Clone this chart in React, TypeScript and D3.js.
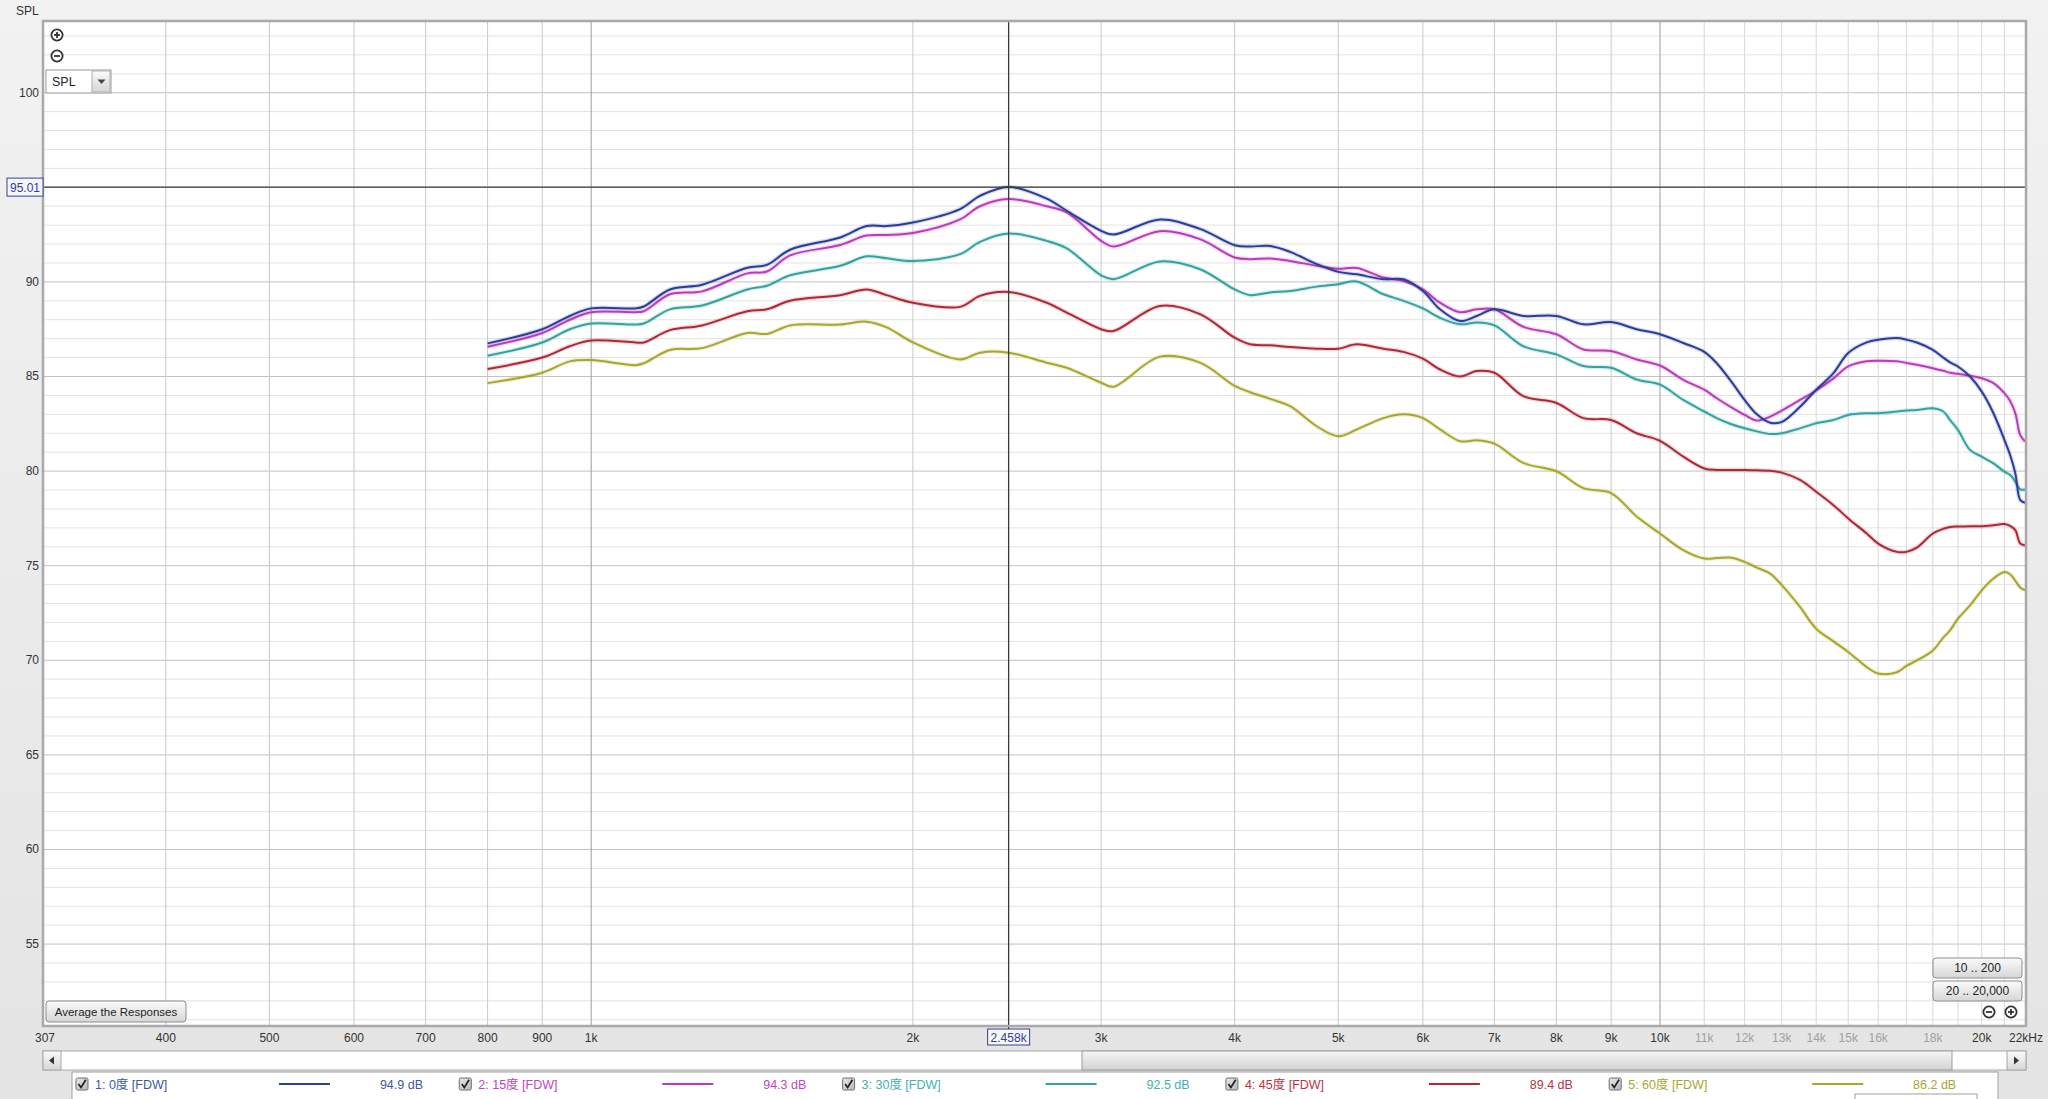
import React, { useEffect } from 'react';
import * as d3 from 'd3';

const W = 2048;
const H = 1099;

// Frequencies (Hz) shared by all five responses
const freqs = [800, 900, 955, 1000, 1100, 1120, 1185, 1270, 1400, 1460, 1535, 1710, 1810, 1890, 2000, 2214, 2311, 2458, 2668, 2786, 3000, 3080, 3405, 3712, 4000, 4135, 4317, 4507, 4773, 5000, 5203, 5511, 5754, 6000, 6226, 6502, 6739, 7000, 7450, 8000, 8479, 9000, 9510, 10000, 10515, 11000, 11300, 11630, 12000, 12320, 12680, 13000, 13520, 14000, 14530, 15000, 15610, 16000, 16660, 17000, 17390, 18000, 18410, 18680, 19000, 19500, 20000, 20510, 21000, 21260, 21500, 21730, 21960];

const spl0 = [86.75, 87.5, 88.2, 88.6, 88.6, 88.7, 89.6, 89.85, 90.75, 90.9, 91.7, 92.35, 92.95, 92.95, 93.14, 93.85, 94.55, 95.02, 94.4, 93.76, 92.7, 92.5, 93.3, 92.8, 91.94, 91.87, 91.9, 91.59, 90.94, 90.53, 90.4, 90.14, 90.14, 89.52, 88.55, 87.93, 88.2, 88.55, 88.2, 88.2, 87.76, 87.88, 87.5, 87.23, 86.77, 86.3, 85.7, 84.82, 83.76, 83.0, 82.56, 82.6, 83.4, 84.3, 85.18, 86.24, 86.8, 86.94, 87.03, 86.95, 86.8, 86.41, 86.0, 85.75, 85.53, 85.0, 84.2, 83.06, 81.65, 80.85, 79.88, 78.47, 78.33];
const spl15 = [86.57, 87.3, 88.0, 88.4, 88.4, 88.45, 89.35, 89.5, 90.45, 90.55, 91.4, 91.95, 92.45, 92.48, 92.58, 93.3, 94.0, 94.38, 94.0, 93.67, 92.17, 91.87, 92.68, 92.26, 91.29, 91.2, 91.24, 91.11, 90.85, 90.7, 90.74, 90.23, 90.05, 89.6, 88.9, 88.4, 88.55, 88.55, 87.63, 87.23, 86.43, 86.35, 85.9, 85.58, 84.82, 84.3, 83.85, 83.41, 82.97, 82.67, 82.88, 83.2, 83.76, 84.26, 84.9, 85.53, 85.8, 85.83, 85.8, 85.72, 85.62, 85.44, 85.3, 85.2, 85.14, 85.04, 84.91, 84.65, 84.12, 83.7, 83.06, 81.9, 81.56];
const spl30 = [86.1, 86.8, 87.5, 87.8, 87.75, 87.8, 88.55, 88.75, 89.6, 89.8, 90.35, 90.85, 91.35, 91.25, 91.1, 91.47, 92.12, 92.56, 92.17, 91.77, 90.35, 90.14, 91.08, 90.67, 89.6, 89.3, 89.44, 89.52, 89.75, 89.88, 90.02, 89.35, 89.0, 88.6, 88.1, 87.76, 87.85, 87.7, 86.6, 86.17, 85.55, 85.46, 84.84, 84.57, 83.76, 83.15, 82.8, 82.5, 82.26, 82.1, 81.96, 82.0, 82.26, 82.53, 82.7, 82.97, 83.06, 83.06, 83.15, 83.2, 83.23, 83.32, 83.15, 82.7, 82.18, 81.12, 80.76, 80.41, 79.97, 79.8, 79.44, 79.03, 79.03];
const spl45 = [85.4, 86.0, 86.6, 86.9, 86.8, 86.8, 87.45, 87.7, 88.45, 88.55, 89.0, 89.3, 89.6, 89.3, 88.9, 88.68, 89.26, 89.47, 88.9, 88.38, 87.5, 87.4, 88.73, 88.3, 87.05, 86.7, 86.65, 86.56, 86.47, 86.47, 86.7, 86.47, 86.3, 85.94, 85.37, 85.0, 85.29, 85.2, 83.96, 83.6, 82.8, 82.7, 82.0, 81.6, 80.76, 80.14, 80.06, 80.06, 80.06, 80.04, 80.02, 79.92, 79.53, 78.91, 78.2, 77.5, 76.7, 76.17, 75.73, 75.73, 75.96, 76.7, 76.95, 77.05, 77.07, 77.09, 77.09, 77.14, 77.2, 77.1, 76.88, 76.17, 76.08];
const spl60 = [84.65, 85.2, 85.8, 85.87, 85.6, 85.7, 86.4, 86.5, 87.3, 87.25, 87.7, 87.75, 87.9, 87.6, 86.8, 85.9, 86.26, 86.26, 85.73, 85.46, 84.67, 84.46, 86.05, 85.73, 84.5, 84.17, 83.82, 83.43, 82.37, 81.84, 82.2, 82.8, 83.0, 82.8, 82.2, 81.58, 81.63, 81.45, 80.43, 79.99, 79.1, 78.84, 77.6, 76.7, 75.82, 75.38, 75.4, 75.43, 75.2, 74.9, 74.58, 73.97, 72.82, 71.67, 71.0, 70.44, 69.64, 69.3, 69.37, 69.7, 69.99, 70.52, 71.2, 71.58, 72.2, 72.9, 73.7, 74.32, 74.67, 74.55, 74.2, 73.85, 73.7];

const seriesNames = ['1: 0度 [FDW]', '2: 15度 [FDW]', '3: 30度 [FDW]', '4: 45度 [FDW]', '5: 60度 [FDW]'];
const seriesLevels = ['94.9 dB', '94.3 dB', '92.5 dB', '89.4 dB', '86.2 dB'];
const seriesValues = [spl0, spl15, spl30, spl45, spl60];
const seriesColors = ['#2a3d9c', '#bd3abd', '#32a3a0', '#b02836', '#a9a62a'];
const seriesTextColors = ['#3b58a8', '#c244c2', '#3fb2b0', '#c03040', '#aaa632'];

const yTickLabels = [100, 90, 85, 80, 75, 70, 65, 60, 55];
const xTickLabels = [400, 500, 600, 700, 800, 900, 1000, 2000, 3000, 4000, 5000, 6000, 7000, 8000, 9000, 10000, 11000, 12000, 13000, 14000, 15000, 16000, 18000, 20000];
const xFadedLabels = [11000, 12000, 13000, 14000, 15000, 16000, 18000];
const xGridLines = [400, 500, 600, 700, 800, 900, 1000, 2000, 3000, 4000, 5000, 6000, 7000, 8000, 9000, 10000, 11000, 12000, 13000, 14000, 15000, 16000, 17000, 18000, 19000, 20000, 21000];

const cursorFreq = 2458;
const cursorFreqLabel = '2.458k';
const cursorSpl = 95.01;
const cursorSplLabel = '95.01';

const FONT = "'Liberation Sans', Arial, 'Noto Sans CJK SC', sans-serif";

const PL = 43, PR = 2026, PT = 21, PB = 1026;

function fmtFreq(v: number) {
  return v < 1000 ? String(v) : `${v / 1000}k`;
}

function ZoomIcon({ cx, cy, plus }: { cx: number; cy: number; plus: boolean }) {
  return (
    <g>
      <circle cx={cx} cy={cy} r={5.6} fill="#fff" stroke="#333" strokeWidth={1.8} />
      <line x1={cx - 3} x2={cx + 3} y1={cy} y2={cy} stroke="#333" strokeWidth={1.8} />
      {plus && <line x1={cx} x2={cx} y1={cy - 3} y2={cy + 3} stroke="#333" strokeWidth={1.8} />}
    </g>
  );
}

function Button({ x, y, w, h, label, size = 12 }: { x: number; y: number; w: number; h: number; label: string; size?: number }) {
  return (
    <g>
      <rect x={x} y={y} width={w} height={h} rx={3} fill="url(#btnGrad)" stroke="#8c8c8c" strokeWidth={1} />
      <text x={x + w / 2} y={y + h / 2 + 4} textAnchor="middle" fontSize={size} fill="#222" fontFamily={FONT}>{label}</text>
    </g>
  );
}

function CheckBox({ x, y }: { x: number; y: number }) {
  return (
    <g>
      <rect x={x} y={y} width={12} height={12} rx={1.5} fill="url(#chkGrad)" stroke="#6e6e6e" strokeWidth={1} />
      <path d={`M${x + 2.5},${y + 6} L${x + 5},${y + 9.5} L${x + 9.8},${y + 1.8}`} fill="none" stroke="#222" strokeWidth={1.7} />
    </g>
  );
}

export default function App() {
  useEffect(() => {
    document.body.style.margin = '0';
  }, []);

  const x = d3.scaleLog().domain([307, 22000]).range([PL, PR]);
  const y = d3.scaleLinear().domain([50.67, 103.79]).range([PB, PT]);

  const line = d3
    .line<number>()
    .x((_, i) => x(freqs[i]))
    .y((d) => y(d))
    .curve(d3.curveCatmullRom.alpha(0.5));

  const hGrid = d3.range(51, 104);
  const cx = x(cursorFreq);
  const cy = y(cursorSpl);

  return (
    <svg width={W} height={H} style={{ position: 'absolute', left: 0, top: 0, display: 'block' }} fontFamily={FONT}>
      <defs>
        <linearGradient id="btnGrad" x1="0" y1="0" x2="0" y2="1">
          <stop offset="0" stopColor="#fbfbfb" />
          <stop offset="1" stopColor="#d6d6d6" />
        </linearGradient>
        <linearGradient id="chkGrad" x1="0" y1="0" x2="1" y2="1">
          <stop offset="0" stopColor="#e8e8e8" />
          <stop offset="1" stopColor="#b8b8b8" />
        </linearGradient>
        <linearGradient id="thumbGrad" x1="0" y1="0" x2="0" y2="1">
          <stop offset="0" stopColor="#f6f6f6" />
          <stop offset="1" stopColor="#d2d2d2" />
        </linearGradient>
        <linearGradient id="bgGrad" x1="0" y1="0" x2="0" y2="1">
          <stop offset="0" stopColor="#f2f2f2" />
          <stop offset="1" stopColor="#e4e4e4" />
        </linearGradient>
        <clipPath id="plotClip">
          <rect x={PL} y={PT} width={PR - PL} height={PB - PT} />
        </clipPath>
      </defs>

      {/* background */}
      <rect x={0} y={0} width={W} height={H} fill="url(#bgGrad)" />

      {/* plot area */}
      <rect x={PL} y={PT} width={PR - PL} height={PB - PT} fill="#ffffff" />

      {/* horizontal grid */}
      {hGrid.map((v) => (
        <line key={`h${v}`} x1={PL} x2={PR} y1={y(v)} y2={y(v)} stroke={v % 5 === 0 ? '#c2c2c2' : '#e3e3e3'} strokeWidth={1} />
      ))}

      {/* vertical grid */}
      {xGridLines.map((v) => (
        <line
          key={`v${v}`}
          x1={x(v)}
          x2={x(v)}
          y1={PT}
          y2={PB}
          stroke={v === 1000 || v === 10000 ? '#9c9c9c' : v > 10000 ? '#d8d8d8' : '#c9c9c9'}
          strokeWidth={1}
        />
      ))}

      {/* curves */}
      <g clipPath="url(#plotClip)">
        {seriesValues
          .map((vals, i) => ({ vals, i }))
          .reverse()
          .map(({ vals, i }) => (
            <g key={`s${i}`}>
              <path d={line(vals) || ''} fill="none" stroke={seriesColors[i]} strokeOpacity={0.18} strokeWidth={4.5} />
              <path d={line(vals) || ''} fill="none" stroke={seriesColors[i]} strokeWidth={2} />
            </g>
          ))}
      </g>

      {/* cursor */}
      <line x1={PL} x2={PR} y1={cy} y2={cy} stroke="#3a3a3a" strokeWidth={1.3} />
      <line x1={cx} x2={cx} y1={PT} y2={PB + 4} stroke="#3a3a3a" strokeWidth={1.3} />

      {/* plot border */}
      <rect x={PL} y={PT} width={PR - PL} height={PB - PT} fill="none" stroke="#a9a9a9" strokeWidth={2.5} />

      {/* top-left controls */}
      <text x={16} y={15} fontSize={12} fill="#333">SPL</text>
      <ZoomIcon cx={57} cy={35} plus={true} />
      <ZoomIcon cx={57} cy={56} plus={false} />
      <rect x={46} y={70} width={65} height={23} fill="#fff" stroke="#9a9a9a" />
      <rect x={92} y={71} width={18} height={21} fill="url(#btnGrad)" stroke="#b0b0b0" />
      <path d="M97.5,79.5 L105.5,79.5 L101.5,84 Z" fill="#444" />
      <text x={52} y={86} fontSize={12.5} fill="#222">SPL</text>

      {/* y labels */}
      {yTickLabels.map((v) => (
        <text key={`yl${v}`} x={39} y={y(v) + 4} textAnchor="end" fontSize={12} fill="#333">{v}</text>
      ))}
      <rect x={7} y={cy - 9} width={36} height={18} fill="#f6f6ff" stroke="#34418f" strokeWidth={1} />
      <text x={25} y={cy + 4.5} textAnchor="middle" fontSize={12} fill="#34418f">{cursorSplLabel}</text>

      {/* x labels */}
      <text x={x(307) + 2} y={1042} textAnchor="middle" fontSize={12} fill="#333">307</text>
      {xTickLabels.map((v) => (
        <text
          key={`xl${v}`}
          x={x(v)}
          y={1042}
          textAnchor="middle"
          fontSize={12}
          fill={xFadedLabels.includes(v) ? '#a0a0a0' : '#333'}
        >
          {fmtFreq(v)}
        </text>
      ))}
      <text x={PR} y={1042} textAnchor="middle" fontSize={12} fill="#333">22kHz</text>
      <rect x={cx - 21} y={1029} width={42} height={16} fill="#f6f6ff" stroke="#34418f" strokeWidth={1} />
      <text x={cx} y={1042} textAnchor="middle" fontSize={12} fill="#34418f">{cursorFreqLabel}</text>

      {/* bottom buttons */}
      <Button x={46} y={1001} w={140} h={21} label="Average the Responses" size={11.5} />
      <Button x={1933} y={958} w={89} h={20} label="10 .. 200" />
      <Button x={1933} y={981} w={89} h={20} label="20 .. 20,000" />
      <ZoomIcon cx={1989} cy={1012} plus={false} />
      <ZoomIcon cx={2011} cy={1012} plus={true} />

      {/* scrollbar */}
      <rect x={PL} y={1051} width={PR - PL} height={19} fill="#fff" stroke="#a8a8a8" />
      <rect x={PL} y={1051} width={18} height={19} fill="url(#btnGrad)" stroke="#a8a8a8" />
      <path d={`M${PL + 6},1060.5 L${PL + 11},1056.5 L${PL + 11},1064.5 Z`} fill="#333" />
      <rect x={1082} y={1051} width={870} height={19} fill="url(#thumbGrad)" stroke="#9c9c9c" />
      <rect x={PR - 19} y={1051} width={19} height={19} fill="url(#btnGrad)" stroke="#a8a8a8" />
      <path d={`M${PR - 12},1056.5 L${PR - 7},1060.5 L${PR - 12},1064.5 Z`} fill="#333" />

      {/* legend panel */}
      <rect x={72} y={1072} width={1926} height={40} fill="#fff" stroke="#a0a0a0" />
      {seriesNames.map((name, i) => {
        const bx = 76 + i * 383.3;
        return (
          <g key={`lg${i}`}>
            <CheckBox x={bx} y={1078} />
            <text x={bx + 19} y={1089} fontSize={12.5} fill={seriesTextColors[i]}>{name}</text>
            <line x1={bx + 203} x2={bx + 254} y1={1084} y2={1084} stroke={seriesColors[i]} strokeWidth={2.2} />
            <text x={bx + 347} y={1089} textAnchor="end" fontSize={12.5} fill={seriesTextColors[i]}>{seriesLevels[i]}</text>
          </g>
        );
      })}
      <rect x={1855} y={1094} width={122} height={12} fill="#fff" stroke="#a0a0a0" />
    </svg>
  );
}
